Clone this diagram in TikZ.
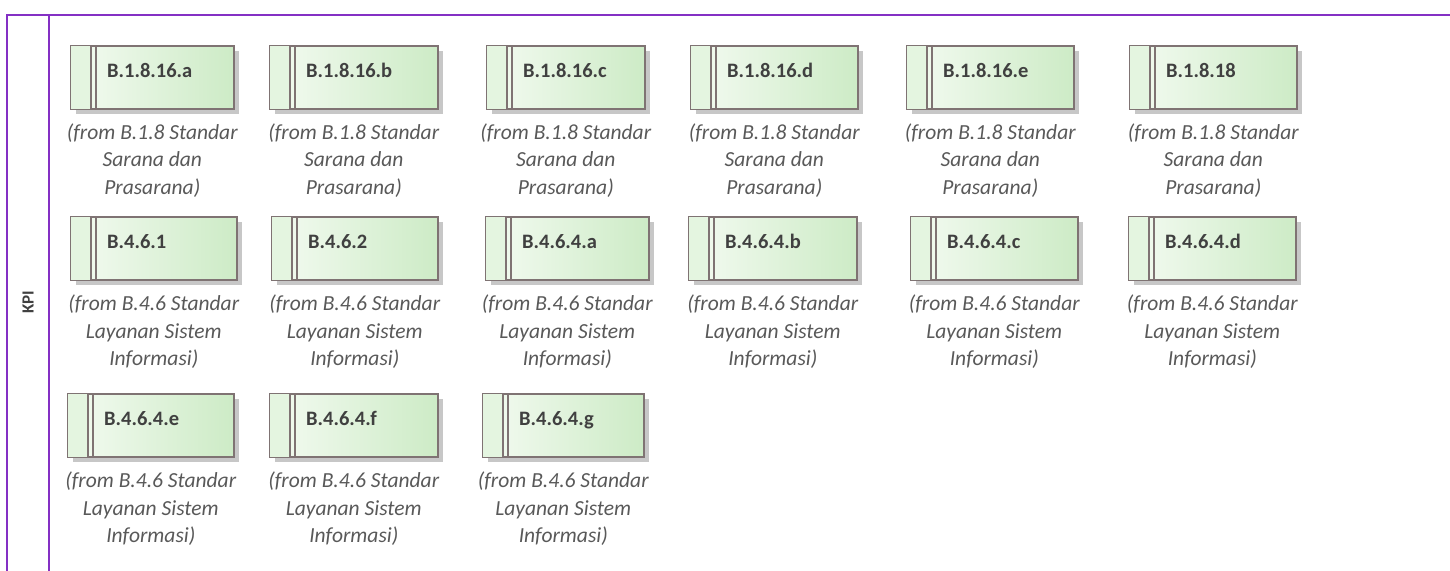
\documentclass[tikz,border=0pt]{standalone}
\usepackage{fontspec}
\setmainfont{Carlito}
\usetikzlibrary{shadows}
\definecolor{framepurple}{HTML}{8430C4}
\definecolor{boxborder}{HTML}{7F7373}
\definecolor{gleft}{HTML}{F4FBF2}
\definecolor{gright}{HTML}{CDEBC6}
\definecolor{titlegray}{HTML}{404040}
\definecolor{captiongray}{HTML}{595959}
\tikzset{
  kpibox/.style={draw=boxborder, line width=1.6pt, rectangle, anchor=north west,
    minimum height=63pt, inner sep=0pt, left color=gleft, right color=gright,
    drop shadow={shadow xshift=5pt, shadow yshift=-5pt, fill=black!22, opacity=1}},
  innerline/.style={draw=boxborder, line width=1.6pt},
  boxtitle/.style={anchor=base west, inner sep=0pt, text=titlegray,
    font={\fontsize{20.5}{24}\selectfont\bfseries}},
  boxcaption/.style={anchor=north, inner sep=0pt, align=center, text=captiongray,
    font={\fontsize{21.5}{27.5}\selectfont\itshape}},
  frameline/.style={draw=framepurple, line width=2.4pt},
  lanelabel/.style={rotate=90, inner sep=0pt, text=titlegray,
    font={\fontsize{17}{20}\selectfont\bfseries}}
}
\newcommand{\kpielem}[7]{%
  \node[kpibox, minimum width=#4pt] (#1) at (#2,#3) {};
  \fill[gleft!60!gright] ([xshift=0.8pt,yshift=-0.8pt]#1.north west) rectangle ([xshift=21pt,yshift=0.8pt]#1.south west);
  \draw[innerline] ([xshift=21pt]#1.north west) -- ([xshift=21pt]#1.south west);
  \draw[innerline] ([xshift=26pt]#1.north west) -- ([xshift=26pt]#1.south west);
  \node[boxtitle] (#1t) at ([xshift=37pt,yshift=-32.5pt]#1.north west) {#5};
  \node[boxcaption] (#1c) at ([yshift=-14pt]#1.south) {#6\\#7};
}
\begin{document}
\begin{tikzpicture}[x=1pt,y=-1pt]
\useasboundingbox (0,0) rectangle (1450,570);
\fill[white] (0,0) rectangle (1450,570);
% frame
\draw[frameline] (7,575) -- (7,15) -- (1455,15);
\draw[frameline] (49,15) -- (49,575);
\node[lanelabel] (kpi) at (28,302) {KPI};
% row 1
\kpielem{a1}{70}{45}{163}{B.1.8.16.a}{(from B.1.8 Standar\\Sarana dan}{Prasarana)}
\kpielem{a2}{269}{45}{168}{B.1.8.16.b}{(from B.1.8 Standar\\Sarana dan}{Prasarana)}
\kpielem{a3}{486}{45}{158}{B.1.8.16.c}{(from B.1.8 Standar\\Sarana dan}{Prasarana)}
\kpielem{a4}{690}{45}{167}{B.1.8.16.d}{(from B.1.8 Standar\\Sarana dan}{Prasarana)}
\kpielem{a5}{906}{45}{167}{B.1.8.16.e}{(from B.1.8 Standar\\Sarana dan}{Prasarana)}
\kpielem{a6}{1129}{45}{167}{B.1.8.18}{(from B.1.8 Standar\\Sarana dan}{Prasarana)}
% row 2
\kpielem{b1}{70}{216}{166}{B.4.6.1}{(from B.4.6 Standar\\Layanan Sistem}{Informasi)}
\kpielem{b2}{271}{216}{166}{B.4.6.2}{(from B.4.6 Standar\\Layanan Sistem}{Informasi)}
\kpielem{b3}{485}{216}{163}{B.4.6.4.a}{(from B.4.6 Standar\\Layanan Sistem}{Informasi)}
\kpielem{b4}{688}{216}{168}{B.4.6.4.b}{(from B.4.6 Standar\\Layanan Sistem}{Informasi)}
\kpielem{b5}{910}{216}{167}{B.4.6.4.c}{(from B.4.6 Standar\\Layanan Sistem}{Informasi)}
\kpielem{b6}{1128}{216}{167}{B.4.6.4.d}{(from B.4.6 Standar\\Layanan Sistem}{Informasi)}
% row 3
\kpielem{c1}{67}{393}{166}{B.4.6.4.e}{(from B.4.6 Standar\\Layanan Sistem}{Informasi)}
\kpielem{c2}{269}{393}{168}{B.4.6.4.f}{(from B.4.6 Standar\\Layanan Sistem}{Informasi)}
\kpielem{c3}{482}{393}{161}{B.4.6.4.g}{(from B.4.6 Standar\\Layanan Sistem}{Informasi)}
\end{tikzpicture}
\end{document}
